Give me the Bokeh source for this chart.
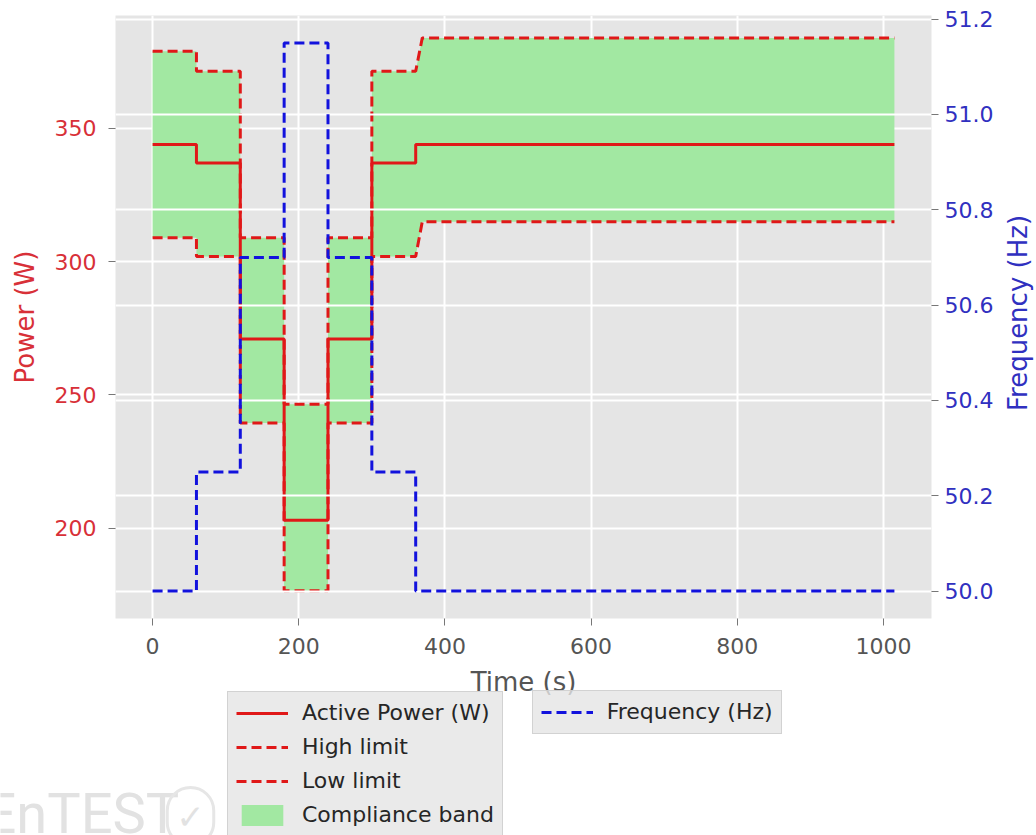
import math
from bokeh.plotting import figure
from bokeh.layouts import column, row
from bokeh.models import (Range1d, LinearAxis, Grid, Legend, LegendItem, Label,
                          FixedTicker, NumeralTickFormatter)
from bokeh.embed import file_html
from bokeh.resources import INLINE

# ---------------- data ----------------
step_start_s = [0, 60, 120, 180, 240, 300, 360]
end_s = 1015
limit_ramp_end_s = 369
active_power_w = [344, 337, 271, 203, 271, 337, 344]
high_limit_w = [379, 371.5, 309, 246.5, 309, 371.5, 384]
low_limit_w = [309, 302, 239.5, 176.5, 239.5, 302, 315]
frequency_hz = [50.0, 50.25, 50.7, 51.15, 50.7, 50.25, 50.0]

x_ticks = [0, 200, 400, 600, 800, 1000]
power_ticks = [200, 250, 300, 350]
freq_ticks = [50.0, 50.2, 50.4, 50.6, 50.8, 51.0, 51.2]


def step_series(starts, end, vals):
    xs, ys = [], []
    bounds = starts[1:] + [end]
    for s, e, v in zip(starts, bounds, vals):
        xs += [s, e]
        ys += [v, v]
    return xs, ys


def limit_series(starts, end, ramp_end, vals):
    xs, ys = step_series(starts, end, vals)
    xs[-2] = ramp_end  # last level is reached through a short ramp
    return xs, ys


t_act, p_act = step_series(step_start_s, end_s, active_power_w)
t_lim, p_high = limit_series(step_start_s, end_s, limit_ramp_end_s, high_limit_w)
_, p_low = limit_series(step_start_s, end_s, limit_ramp_end_s, low_limit_w)
t_f, f_val = step_series(step_start_s, end_s, frequency_hz)

RED = "#E01818"
RED_TXT = "#D83038"
BLUE = "#1212DD"
BLUE_TXT = "#3030C0"
GREEN = "#A2E8A2"
GRAY = "#555555"
FONT = "DejaVu Sans"

W = 1036
W3 = 36          # strip on the right holding the frequency axis title
W1 = W - W3
H1 = 664
H2 = 835 - H1

p = figure(width=W1, height=H1, output_backend="svg", toolbar_location=None,
           x_range=Range1d(-50.75, 1065.75), y_range=Range1d(166.1, 392.4),
           min_border_left=115, min_border_right=W1 - 931, min_border_top=15,
           min_border_bottom=H1 - 618, background_fill_color="#E5E5E5",
           border_fill_color="white", outline_line_color=None)
p.extra_y_ranges = {"freq": Range1d(49.9425, 51.2075)}

p.xgrid.grid_line_color = "white"
p.xgrid.grid_line_width = 2
p.ygrid.grid_line_color = "white"
p.ygrid.grid_line_width = 2

xa = p.xaxis[0]
xa.ticker = FixedTicker(ticks=x_ticks)
ya = p.yaxis[0]
ya.ticker = FixedTicker(ticks=power_ticks)
ya.axis_label = "Power (W)"
ra = LinearAxis(y_range_name="freq", ticker=FixedTicker(ticks=freq_ticks),
                formatter=NumeralTickFormatter(format="0.0"))
p.add_layout(ra, "right")
p.ygrid.ticker = ya.ticker
p.xgrid.ticker = xa.ticker

for ax in (xa, ya, ra):
    ax.axis_line_color = None
    ax.major_tick_line_color = "#777777"
    ax.major_tick_out = 7
    ax.major_tick_in = 0
    ax.minor_tick_line_color = None
    ax.major_label_text_font = FONT
    ax.major_label_text_font_size = "22px"
    ax.axis_label_text_font = FONT
    ax.axis_label_text_font_size = "26px"
    ax.axis_label_text_font_style = "normal"

xa.major_label_text_color = GRAY
xa.major_label_standoff = 12
ya.major_label_text_color = RED_TXT
ya.axis_label_text_color = RED_TXT
ya.major_label_standoff = 12
ya.axis_label_standoff = 12
ra.major_label_text_color = BLUE_TXT
ra.major_label_standoff = 6

band = p.varea(x=t_lim, y1=p_low, y2=p_high, fill_color=GREEN, fill_alpha=1.0)
act = p.line(t_act, p_act, line_color=RED, line_width=3)
hi = p.line(t_lim, p_high, line_color=RED, line_width=3, line_dash="10 5")
lo = p.line(t_lim, p_low, line_color=RED, line_width=3, line_dash="10 5")

# frequency grid drawn above the power data (twin axes style)
fgrid = Grid(dimension=1, ticker=ra.ticker, y_range_name="freq",
             grid_line_color="white", grid_line_width=2, level="glyph")
p.renderers = p.renderers + [fgrid]

fr = p.line(t_f, f_val, y_range_name="freq", line_color=BLUE, line_width=3,
            line_dash="10 5")

# ---------------- right strip: frequency axis title ----------------
p3 = figure(width=W3, height=H1, output_backend="svg", toolbar_location=None,
            x_range=Range1d(0, 1), y_range=Range1d(0, 1),
            x_axis_type=None, y_axis_type=None, min_border=0,
            outline_line_color=None, background_fill_color="white",
            border_fill_color="white", frame_align=False)
p3.grid.visible = False
p3.add_layout(Label(x=1017 - W1, y=H1 - 312.5, x_units="screen",
                    y_units="screen", text="Frequency (Hz)", angle=math.pi / 2,
                    text_font=FONT, text_font_size="26px",
                    text_color=BLUE_TXT, text_align="center",
                    text_baseline="middle"))

# ---------------- lower strip: x label, legends, watermark ----------------
p2 = figure(width=W, height=H2, output_backend="svg", toolbar_location=None,
            x_range=Range1d(0, 1), y_range=Range1d(0, 1),
            x_axis_type=None, y_axis_type=None, min_border=0,
            outline_line_color=None, background_fill_color="white",
            border_fill_color="white", frame_align=False)
p2.grid.visible = False

p2.add_layout(Label(x=523, y=H2 - 17, x_units="screen", y_units="screen",
                    text="Time (s)", text_font=FONT, text_font_size="26px",
                    text_color=GRAY, text_align="center",
                    text_baseline="middle"))

# watermark
p2.add_layout(Label(x=-16, y=H2 - 116, x_units="screen", y_units="screen",
                    text="EnTEST", text_font="Roboto",
                    text_font_size="56px", text_color="#E2E2E2",
                    text_baseline="top"))
p2.add_layout(Label(x=190, y=H2 - 152, x_units="screen", y_units="screen",
                    text="✓", text_font=FONT, text_font_size="34px",
                    text_color="#E2E2E2", text_baseline="middle",
                    text_align="center",
                    border_line_color="#E6E6E6", border_line_width=3,
                    border_radius=24, padding=9))

# legend proxies (same styles as the plotted series, nothing drawn)
nan = [float("nan")]
l_act = p2.line(x=nan, y=nan, line_color=RED, line_width=3)
l_hi = p2.line(x=nan, y=nan, line_color=RED, line_width=3, line_dash="10 5")
l_lo = p2.line(x=nan, y=nan, line_color=RED, line_width=3, line_dash="10 5")
l_band = p2.varea(x=nan, y1=nan, y2=nan, fill_color=GREEN, fill_alpha=1.0)
l_fr = p2.line(x=nan, y=nan, line_color=BLUE, line_width=3, line_dash="10 5")

leg_style = dict(label_text_font=FONT, label_text_font_size="22px",
                 label_text_color="#262626", glyph_width=52, glyph_height=26,
                 label_height=26, label_standoff=14, spacing=8, padding=8,
                 margin=0, background_fill_color="#E5E5E5",
                 background_fill_alpha=0.8, border_line_color="#CCCCCC",
                 border_line_alpha=0.8, border_line_width=1)

leg1 = Legend(items=[LegendItem(label="Active Power (W)", renderers=[l_act]),
                     LegendItem(label="High limit", renderers=[l_hi]),
                     LegendItem(label="Low limit", renderers=[l_lo]),
                     LegendItem(label="Compliance band", renderers=[l_band])],
              location=(227, H2 - 28.7 - 144), **leg_style)
leg2 = Legend(items=[LegendItem(label="Frequency (Hz)", renderers=[l_fr])],
              location=(531.7, H2 - 27.7 - 42), **leg_style)
p2.add_layout(leg1)
p2.add_layout(leg2)

layout = column(row(p, p3, spacing=0), p2, spacing=0)
open("out.html", "w").write(file_html(layout, INLINE))
